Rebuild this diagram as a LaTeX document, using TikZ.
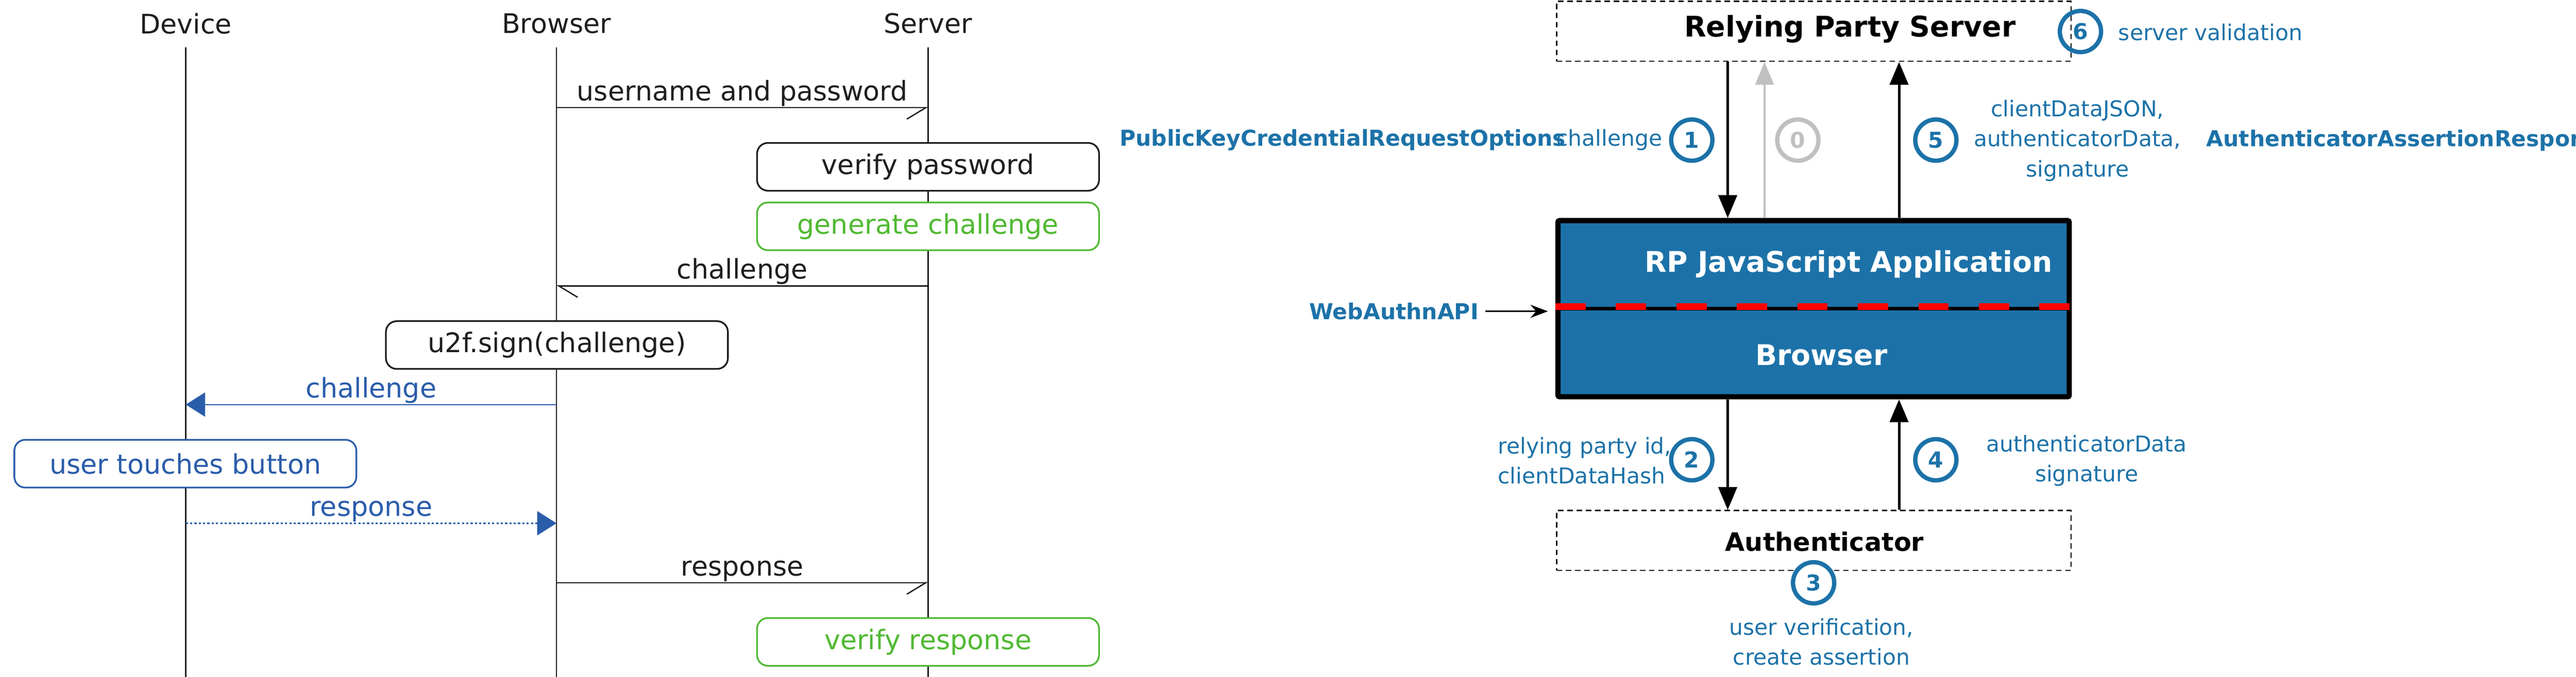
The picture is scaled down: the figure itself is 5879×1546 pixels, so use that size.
\documentclass[tikz,border=0pt]{standalone}
\usepackage{fontspec}
\setmainfont{DejaVu Sans}
\usetikzlibrary{arrows.meta,positioning}
\definecolor{wablue}{RGB}{28,114,168}
\definecolor{seqblue}{RGB}{42,92,170}
\definecolor{seqgreen}{RGB}{80,185,50}
\definecolor{seqblack}{RGB}{30,30,30}
\definecolor{wagray}{RGB}{192,192,192}
\newcommand{\seqfont}{\fontsize{17.5}{21}\selectfont}
\newcommand{\wafont}{\fontsize{14.2}{19.6}\selectfont}
\newcommand{\titlefont}{\fontsize{18.5}{22}\selectfont\bfseries}
\begin{document}
\begin{tikzpicture}[x=0.01cm, y=-0.01cm,
  actor/.style={text=seqblack, font=\seqfont},
  life/.style={seqblack, line width=0.85pt},
  act/.style={draw=seqblack, text=seqblack, fill=white, rounded corners=7pt, line width=1.1pt, minimum width=7.8cm, minimum height=1.09cm, font=\seqfont},
  msg/.style={seqblack, line width=0.85pt, -{Straight Barb[harpoon,swap,length=0.43cm,width=0.52cm]}},
  back/.style={msg, -{Straight Barb[harpoon,length=0.43cm,width=0.52cm]}},
  umsg/.style={seqblue, line width=0.85pt, -{Triangle[length=0.44cm,width=0.55cm]}},
  lbl/.style={midway, above, inner sep=0.5pt, font=\seqfont},
  box/.style={draw, dash pattern=on 3.5pt off 2.5pt, line width=0.8pt, minimum width=11.73cm, minimum height=1.37cm},
  flow/.style={line width=1.7pt, -{Triangle[length=0.52cm,width=0.42cm]}},
  numc/.style={circle, draw=wablue, line width=2.8pt, text=wablue, minimum size=0.94cm, inner sep=0pt, font=\wafont\bfseries},
  note/.style={text=wablue, font=\wafont, align=center, inner sep=0pt},
  api/.style={text=wablue, font=\wafont\bfseries, inner sep=0pt}]
\useasboundingbox (0,0) rectangle (5879,1546);

\node[actor] (dev) at (424,54) {Device};
\node[actor] (bro) at (1270,54) {Browser};
\node[actor] (srv) at (2118,54) {Server};
\foreach \n in {dev,bro,srv}
  \draw[life] (\n) ++(0,54) -- ++(0,1438);
\coordinate (m1) at (0,246);
\coordinate (m2) at (0,653);
\coordinate (m3) at (0,924);
\coordinate (m4) at (0,1195);
\coordinate (m5) at (0,1331);

\node[act] (vpw) at (2118,381) {verify password};
\node[act, draw=seqgreen, text=seqgreen] (gch) at (2118,517) {generate challenge};
\node[act] (sign) at (1271,788) {u2f.sign(challenge)};
\node[act, draw=seqblue, text=seqblue] (utb) at (423,1059) {user touches button};
\node[act, draw=seqgreen, text=seqgreen] (vrs) at (2118,1466) {verify response};

\draw[msg] (bro |- m1) -- node[lbl]{username and password} (srv |- m1);
\draw[back] (srv |- m2) -- node[lbl]{challenge} (bro |- m2);
\draw[umsg] (bro |- m3) -- node[lbl]{challenge} (dev |- m3);
\draw[umsg, dash pattern=on 1.4pt off 1.4pt] (dev |- m4) -- node[lbl]{response} (bro |- m4);
\draw[msg] (bro |- m5) -- node[lbl]{response} (srv |- m5);

\node[box] (rps) at (4139.5,71.5) {};
\node[font=\titlefont] (rpst) at (4222,66) {Relying Party Server};
\node[draw, fill=wablue, line width=3.4pt, rounded corners=1pt, minimum width=11.66cm, minimum height=4.02cm] (rpjs) at (4139,705) {};
\draw[line width=2.3pt] (rpjs.west) -- (rpjs.east);
\draw[red, line width=4.5pt, dash pattern=on 0.69cm off 0.69cm] ([yshift=0.05cm]rpjs.west) -- ([yshift=0.05cm]rpjs.east);
\node[font=\titlefont, text=white] (rpjst) at (4219,604) {RP JavaScript Application};
\node[font=\titlefont, text=white] (brwt) at (4157,811) {Browser};
\node[box] (auth) at (4139.5,1234.5) {};
\node[font=\fontsize{16.5}{20}\selectfont\bfseries] (autht) at (4164,1237) {Authenticator};

\coordinate (x1) at (3943,0);
\coordinate (x0) at (4027,0);
\coordinate (x5) at (4334,0);
\draw[flow] (rps.south -| x1) -- (rpjs.north -| x1);
\draw[flow, wagray, line width=1.4pt] (rpjs.north -| x0) -- (rps.south -| x0);
\draw[flow] (rpjs.north -| x5) -- (rps.south -| x5);
\draw[flow] (rpjs.south -| x1) -- (auth.north -| x1);
\draw[flow] (auth.north -| x5) -- (rpjs.south -| x5);

\node[api, anchor=east] (wapi) at (3375,711) {WebAuthnAPI};
\draw[line width=0.85pt, -{Stealth[length=0.4cm,width=0.3cm]}] ([xshift=0.15cm]wapi.east) -- ([xshift=-0.17cm]wapi.east -| rpjs.west);

\node[numc] (n6) at (4748,72) {6};
\node[numc] (n1) at (3861,320) {1};
\node[numc, draw=wagray, text=wagray] (n0) at (4103,320) {0};
\node[numc] (n5) at (4418,320) {5};
\node[numc] (n2) at (3861,1050) {2};
\node[numc] (n4) at (4418,1050) {4};
\node[numc, fill=white] (n3) at (4139,1331) {3};

\node[note, anchor=west] (sval) at (4834,74) {server validation};
\node[note, anchor=east] (chl) at (3794,320) {challenge};
\node[api, anchor=east] (pkcro) at (3574,320) {PublicKeyCredentialRequestOptions};
\node[note] (cdj) at (4741,321) {clientDataJSON,\\authenticatorData,\\signature};
\node[api, anchor=west] (aar) at (5035,321) {AuthenticatorAssertionResponse};
\node[note, anchor=west, align=left] (rpid) at (3418,1052) {relying party id,\\clientDataHash};
\node[note] (adsig) at (4762,1052) {authenticatorData\\signature};
\node[note] (uver) at (4157,1466) {user verification,\\create assertion};
\end{tikzpicture}
\end{document}
